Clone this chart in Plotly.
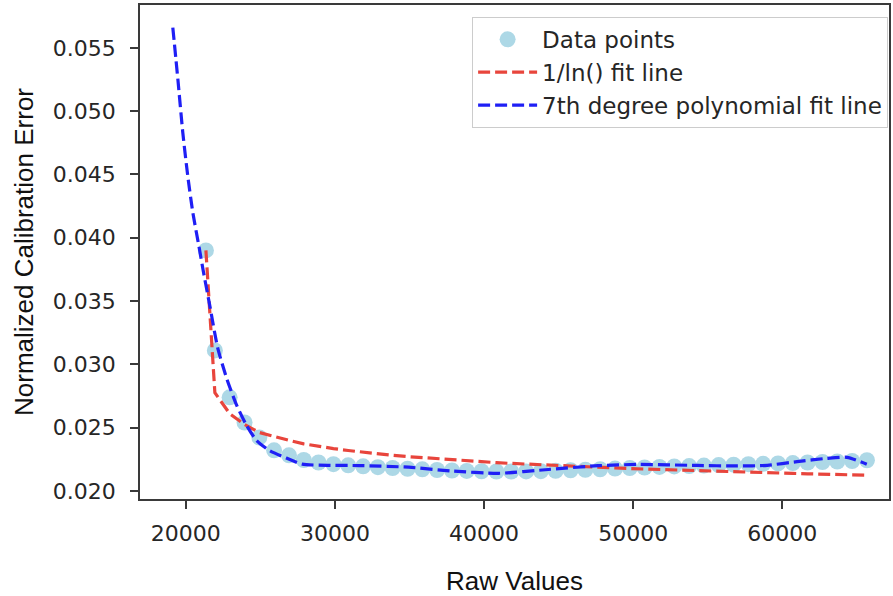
import plotly.graph_objects as go

# Measured calibration error against raw sensor values
raw_values = [
    21350, 21950, 22940, 23940, 24930, 25920, 26920, 27910, 28900, 29900,
    30890, 31890, 32880, 33870, 34870, 35860, 36850, 37850, 38840, 39830,
    40830, 41820, 42820, 43810, 44800, 45800, 46790, 47780, 48780, 49770,
    50760, 51760, 52750, 53750, 54740, 55730, 56730, 57720, 58710, 59710,
    60700, 61690, 62690, 63680, 64680, 65670,
]
calib_error = [
    0.03900, 0.03110, 0.02740, 0.02541, 0.02423, 0.02321, 0.02282, 0.02245, 0.02225, 0.02212,
    0.02203, 0.02195, 0.02188, 0.02182, 0.02176, 0.02171, 0.02166, 0.02162, 0.02159, 0.02156,
    0.02154, 0.02154, 0.02155, 0.02157, 0.02160, 0.02164, 0.02168, 0.02172, 0.02177, 0.02182,
    0.02186, 0.02190, 0.02194, 0.02197, 0.02201, 0.02205, 0.02208, 0.02212, 0.02215, 0.02218,
    0.02221, 0.02225, 0.02229, 0.02233, 0.02237, 0.02243,
]

# 1/ln() model evaluated at the measured raw values
ln_fit = [
    0.03900, 0.02776, 0.02611, 0.02525, 0.02462, 0.02428, 0.02400, 0.02372, 0.02352, 0.02335,
    0.02320, 0.02306, 0.02294, 0.02282, 0.02272, 0.02263, 0.02254, 0.02246, 0.02238, 0.02231,
    0.02224, 0.02218, 0.02212, 0.02206, 0.02201, 0.02196, 0.02191, 0.02186, 0.02182, 0.02177,
    0.02173, 0.02169, 0.02165, 0.02162, 0.02158, 0.02155, 0.02151, 0.02148, 0.02145, 0.02142,
    0.02139, 0.02136, 0.02133, 0.02130, 0.02128, 0.02125,
]

# 7th degree polynomial evaluated on a dense grid
poly_x = [
    19130, 19470, 19800, 20130, 20470, 20870, 21200, 21600, 22140, 22740,
    23400, 24070, 24740, 25610, 26740, 27810, 29500, 31600, 34950, 37820,
    40960, 44300, 47640, 50300, 54310, 56980, 58990, 60990, 62990, 64330, 65660,
]
poly_y = [
    0.05660, 0.05250, 0.04830, 0.04490, 0.04200, 0.03940, 0.03720, 0.03470, 0.03130, 0.02890,
    0.02680, 0.02520, 0.02400, 0.02320, 0.02260, 0.02212, 0.02203, 0.02201, 0.02188, 0.02158,
    0.02140, 0.02170, 0.02200, 0.02210, 0.02202, 0.02198, 0.02203, 0.02232, 0.02258, 0.02266, 0.02212,
]

x_ticks = [20000, 30000, 40000, 50000, 60000]
y_ticks = [0.020, 0.025, 0.030, 0.035, 0.040, 0.045, 0.050, 0.055]

tick_font = dict(family="DejaVu Sans", size=22, color="#262626")
title_font = dict(family="Liberation Sans, Arial", size=26, color="#111111")
frame = "#3a3a3a"

fig = go.Figure()
fig.add_trace(go.Scatter(
    x=raw_values, y=calib_error, mode="markers", name="Data points",
    marker=dict(color="#add8e6", size=16, line=dict(width=0)),
))
fig.add_trace(go.Scatter(
    x=raw_values, y=ln_fit, mode="lines", name="1/ln() fit line",
    line=dict(color="#e8453c", width=3.2, dash="12px,5px"),
))
fig.add_trace(go.Scatter(
    x=poly_x, y=poly_y, mode="lines", name="7th degree polynomial fit line",
    line=dict(color="#1f1ff5", width=3.2, dash="12px,5px", shape="spline", smoothing=0.6),
))

fig.update_layout(
    width=893, height=596,
    margin=dict(l=140, r=2, t=5, b=94),
    paper_bgcolor="white", plot_bgcolor="white",
    showlegend=True,
    legend=dict(
        x=0.4434, y=0.976, xanchor="left", yanchor="top",
        bgcolor="white", bordercolor="#cccccc", borderwidth=1,
        font=dict(family="DejaVu Sans", size=23, color="#262626"),
        itemwidth=59, tracegroupgap=0,
    ),
    xaxis=dict(
        range=[16930, 67150], tickvals=x_ticks, ticktext=[str(v) for v in x_ticks],
        showgrid=False, zeroline=False,
        showline=True, mirror=True, linecolor=frame, linewidth=1.6,
        ticks="outside", ticklen=8, tickwidth=1.5, tickcolor=frame,
        tickfont=tick_font, ticklabelstandoff=6,
        title=dict(text="Raw Values", font=title_font, standoff=30),
    ),
    yaxis=dict(
        range=[0.01937, 0.05838], tickvals=y_ticks, ticktext=[f"{v:.3f}" for v in y_ticks],
        showgrid=False, zeroline=False,
        showline=True, mirror=True, linecolor=frame, linewidth=1.6,
        ticks="outside", ticklen=8, tickwidth=1.5, tickcolor=frame,
        tickfont=tick_font, ticklabelstandoff=10,
        title=dict(text="Normalized Calibration Error", font=title_font, standoff=12),
    ),
)

fig.write_html("out.html")
